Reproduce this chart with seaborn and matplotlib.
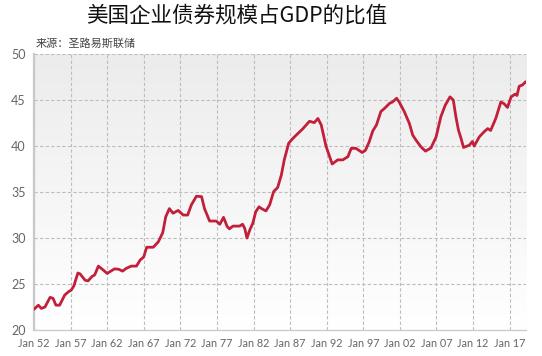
import numpy as np
import pandas as pd
import matplotlib
matplotlib.use('Agg')
import matplotlib.pyplot as plt
from matplotlib.colors import LinearSegmentedColormap
import seaborn as sns

# data (decimal year, bond debt as % of GDP)
years = [1952.0, 1952.6, 1953.0, 1953.5, 1954.2, 1954.6, 1955.0, 1955.5, 1956.2, 1956.7,
         1957.1, 1957.45, 1958.0, 1958.3, 1959.0, 1959.4, 1959.9, 1960.3, 1960.8, 1961.5,
         1962.0, 1962.6, 1963.0, 1963.6, 1964.1, 1964.6, 1965.3, 1966.0, 1966.5, 1967.0,
         1967.4, 1968.0, 1968.3, 1969.0, 1969.6, 1970.0, 1970.5, 1971.0, 1971.7, 1972.4,
         1973.0, 1973.5, 1974.2, 1974.9, 1975.3, 1976.0, 1976.9, 1977.4, 1977.9, 1978.4,
         1978.7, 1979.2, 1980.1, 1980.5, 1980.8, 1981.1, 1981.5, 1981.9, 1982.3, 1982.75,
         1983.1, 1983.7, 1984.2, 1984.75, 1985.3, 1985.8, 1986.2, 1986.8, 1987.4, 1988.1,
         1988.7, 1989.65, 1990.3, 1990.8, 1991.25, 1991.9, 1992.75, 1993.5, 1994.2, 1994.9,
         1995.35, 1996.0, 1996.85, 1997.3, 1997.8, 1998.3, 1998.8, 1999.4, 1999.9, 2000.6,
         2001.0, 2001.55, 2001.9, 2002.6, 2003.3, 2003.75, 2004.2, 2004.9, 2005.5, 2006.25,
         2006.95, 2007.6, 2008.2, 2008.85, 2009.3, 2009.65, 2010.0, 2010.35, 2010.7, 2011.5,
         2011.9, 2012.15, 2012.85, 2013.5, 2014.0, 2014.4, 2015.1, 2015.8, 2016.25, 2016.7,
         2017.2, 2017.75, 2018.0, 2018.3, 2018.75, 2019.2]
values = [22.25, 22.7, 22.35, 22.5, 23.55, 23.45, 22.7, 22.7, 23.8, 24.15,
          24.35, 24.8, 26.2, 26.1, 25.4, 25.35, 25.8, 26.0, 26.95, 26.5,
          26.15, 26.45, 26.65, 26.6, 26.4, 26.7, 26.95, 26.95, 27.6, 27.95,
          29.0, 29.0, 29.0, 29.6, 30.6, 32.3, 33.2, 32.7, 33.0, 32.5,
          32.5, 33.6, 34.55, 34.5, 33.2, 31.85, 31.85, 31.5, 32.25, 31.25,
          31.0, 31.3, 31.3, 31.5, 31.05, 30.0, 30.9, 31.6, 32.85, 33.4,
          33.2, 32.95, 33.6, 35.05, 35.5, 36.85, 38.5, 40.3, 40.85, 41.4,
          41.85, 42.7, 42.55, 43.0, 42.3, 40.0, 38.05, 38.5, 38.5, 38.85,
          39.75, 39.75, 39.3, 39.55, 40.45, 41.65, 42.3, 43.75, 44.1, 44.65,
          44.8, 45.2, 44.8, 43.75, 42.45, 41.2, 40.65, 39.9, 39.45, 39.8,
          41.0, 43.2, 44.45, 45.35, 45.0, 43.2, 41.75, 40.85, 39.85, 40.1,
          40.5, 40.0, 41.0, 41.55, 41.9, 41.7, 43.0, 44.8, 44.6, 44.2,
          45.35, 45.65, 45.5, 46.5, 46.65, 47.0]

tick_years = list(range(1952, 2018, 5))
tick_labels = [f'Jan {y % 100:02d}' for y in tick_years]
y_ticks = [20, 25, 30, 35, 40, 45, 50]

title = '美国企业债券规模占GDP的比值'
source = '来源：圣路易斯联储'

sns.set_style('white')
plt.rcParams['font.family'] = ['Lato', 'Noto Sans CJK SC', 'DejaVu Sans']

df = pd.DataFrame({'year': years, 'value': values})

fig = plt.figure(figsize=(5.42, 3.56), dpi=100)
ax = fig.add_axes([0.0627, 0.073, 0.908, 0.775])

x0, x1 = 1952, 2019.25
# light grey to white background gradient
grad = np.linspace(0, 1, 256).reshape(-1, 1)
cmap = LinearSegmentedColormap.from_list('bg', ['#ececec', '#ffffff'])
ax.imshow(grad, cmap=cmap, extent=[x0, x1, 20, 50], aspect='auto', zorder=0)

sns.lineplot(data=df, x='year', y='value', color='#c21f3a', linewidth=2.0, ax=ax, zorder=3)

ax.set_xlim(x0, x1)
ax.set_ylim(20, 50)
ax.set_xticks(tick_years)
ax.set_xticklabels(tick_labels)
ax.set_yticks(y_ticks)
ax.set_xlabel('')
ax.set_ylabel('')
ax.grid(True, linestyle=(0, (3, 2)), color='#bdbdbd', linewidth=0.8, zorder=1)
ax.tick_params(axis='both', colors='#666666', length=3, width=0.8)
ax.tick_params(axis='x', pad=3, labelsize=7.8)
ax.tick_params(axis='y', length=0, pad=6, labelsize=9)

for side in ['top', 'right']:
    ax.spines[side].set_visible(False)
ax.spines['left'].set_color('#c8c8c8')
ax.spines['left'].set_linewidth(1.6)
ax.spines['bottom'].set_color('#cccccc')
ax.spines['bottom'].set_linewidth(1.0)

fig.text(0.436, 0.955, title, ha='center', va='center', fontsize=15.5,
         family=['Noto Sans CJK SC', 'DejaVu Sans'], color='#111111')
fig.text(0.065, 0.878, source, ha='left', va='center', fontsize=8,
         family=['Noto Sans CJK SC', 'DejaVu Sans'], color='#444444')

fig.savefig('out.png', dpi=100)
